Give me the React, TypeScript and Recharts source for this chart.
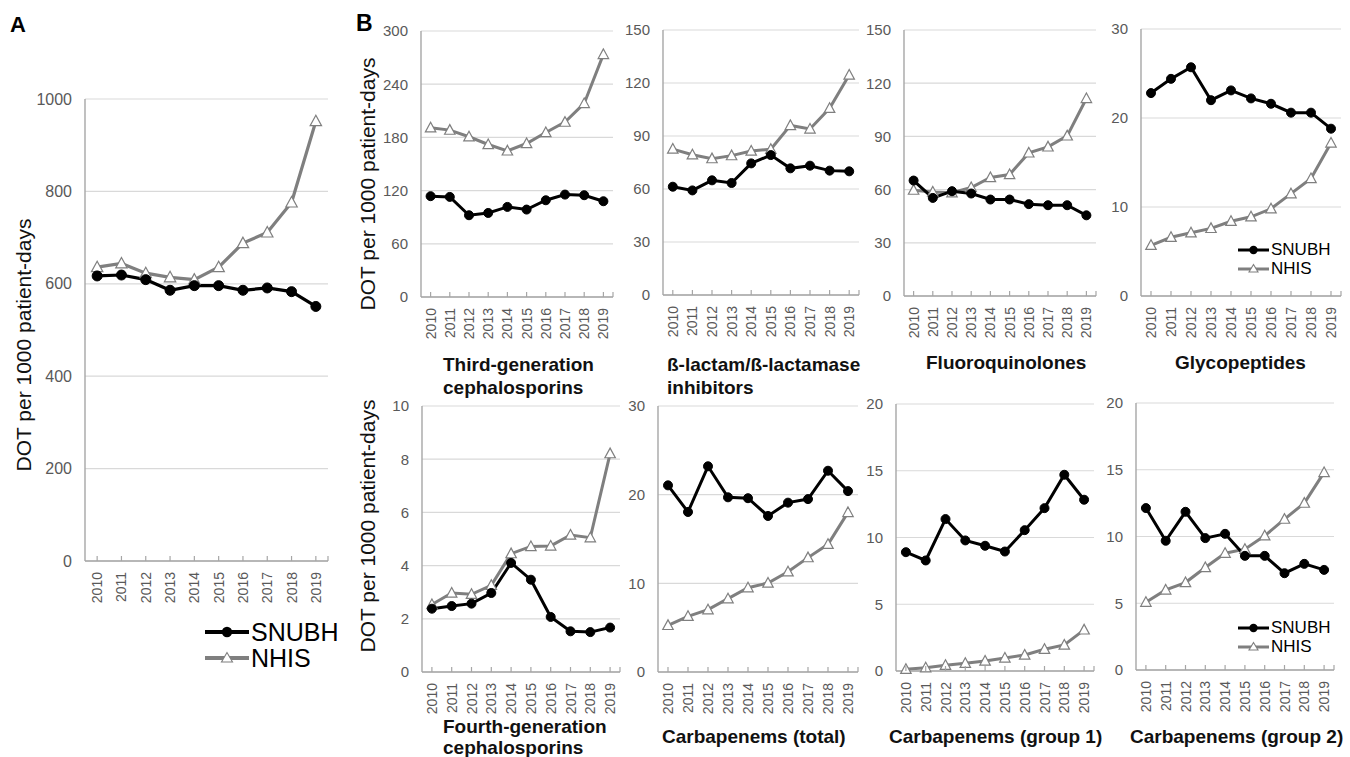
import React from 'react';
import { LineChart, Line, XAxis, YAxis, CartesianGrid } from 'recharts';

const years = ['2010', '2011', '2012', '2013', '2014', '2015', '2016', '2017', '2018', '2019'];

const totalSnubh = [617, 619, 609, 586, 596, 596, 586, 591, 583, 551];
const totalNhis = [636, 644, 623, 614, 609, 636, 688, 711, 776, 952];

const thirdSnubh = [113.7, 112.9, 92.2, 94.8, 101.6, 98.6, 109.1, 115.5, 114.8, 108.0];
const thirdNhis = [190.8, 188.2, 180.7, 172.0, 164.8, 173.1, 185.5, 197.2, 218.3, 273.6];

const blbliSnubh = [61.3, 59.2, 64.9, 63.4, 74.5, 79.2, 71.7, 73.2, 70.4, 70.0];
const blbliNhis = [82.6, 79.4, 77.2, 78.9, 81.5, 82.5, 96.0, 94.0, 105.7, 124.5];

const fqSnubh = [65.1, 55.3, 59.1, 57.8, 54.4, 54.4, 51.8, 51.2, 51.2, 45.5];
const fqNhis = [59.7, 58.7, 58.2, 61.2, 66.8, 68.5, 80.7, 84.1, 90.3, 111.4];

const glySnubh = [22.8, 24.4, 25.7, 22.0, 23.1, 22.2, 21.6, 20.6, 20.6, 18.8];
const glyNhis = [5.7, 6.6, 7.1, 7.6, 8.4, 8.9, 9.8, 11.5, 13.2, 17.2];

const fourthSnubh = [2.38, 2.48, 2.57, 2.97, 4.1, 3.47, 2.07, 1.53, 1.5, 1.67];
const fourthNhis = [2.54, 2.97, 2.92, 3.26, 4.45, 4.72, 4.74, 5.15, 5.05, 8.21];

const carbSnubh = [21.05, 18.05, 23.2, 19.7, 19.6, 17.6, 19.1, 19.5, 22.7, 20.4];
const carbNhis = [5.26, 6.28, 7.03, 8.27, 9.51, 10.04, 11.3, 12.9, 14.4, 18.0];

const g1Snubh = [8.9, 8.28, 11.38, 9.78, 9.38, 8.95, 10.55, 12.2, 14.7, 12.83];
const g1Nhis = [0.13, 0.25, 0.43, 0.58, 0.75, 0.98, 1.2, 1.63, 1.95, 3.08];

const g2Snubh = [12.13, 9.68, 11.85, 9.88, 10.2, 8.55, 8.55, 7.25, 7.95, 7.5];
const g2Nhis = [5.08, 6.0, 6.55, 7.68, 8.75, 9.05, 10.05, 11.3, 12.5, 14.8];

const ticksA = [0, 200, 400, 600, 800, 1000];
const ticks300 = [0, 60, 120, 180, 240, 300];
const ticks150 = [0, 30, 60, 90, 120, 150];
const ticks30 = [0, 10, 20, 30];
const ticks10 = [0, 2, 4, 6, 8, 10];
const ticks20 = [0, 5, 10, 15, 20];

const seriesNames = ['SNUBH', 'NHIS'];

const FONT = '"Liberation Sans", Arial, Helvetica, sans-serif';
const AXIS = '#a6a6a6';
const GRID = '#d9d9d9';
const TICK = '#595959';
const GRAY = '#7f7f7f';

const XTick = (props: any) => {
  const { x, y, payload, index, fontSize, half } = props;
  return (
    <g>
      <line x1={x} x2={x} y1={y} y2={y - 5} stroke={AXIS} strokeWidth={1.2} />
      {index === 9 ? <line x1={x + half} x2={x + half} y1={y} y2={y - 5} stroke={AXIS} strokeWidth={1.2} /> : null}
      <text
        x={x}
        y={y + 11}
        transform={`rotate(-90, ${x}, ${y + 11})`}
        textAnchor="end"
        dominantBaseline="central"
        fontSize={fontSize}
        fontFamily={FONT}
        fill={TICK}
      >
        {payload.value}
      </text>
    </g>
  );
};

const renderCircle = (r: number) => (p: any) =>
  <circle key={`c-${p.index}`} cx={p.cx} cy={p.cy} r={r} fill="#000" stroke="#000" />;

const renderTri = (s: number) => (p: any) => (
  <polygon
    key={`t-${p.index}`}
    points={`${p.cx},${p.cy - s} ${p.cx - s * 0.95},${p.cy + s * 0.75} ${p.cx + s * 0.95},${p.cy + s * 0.75}`}
    fill="#fff"
    stroke={GRAY}
    strokeWidth={1.2}
  />
);

type PanelProps = {
  l: number; t: number; r: number; b: number;
  yMax: number; ticks: number[];
  snubh: number[]; nhis: number[];
  yFont: number; xFont: number;
  big?: boolean;
};

function Panel({ l, t, r, b, yMax, ticks, snubh, nhis, yFont, xFont, big }: PanelProps) {
  const YW = 70, MT = 12, MR = 10, XH = 55;
  const width = r - l + YW + MR;
  const height = b - t + MT + XH;
  const data = years.map((y, i) => ({ year: y, SNUBH: snubh[i], NHIS: nhis[i] }));
  const half = (r - l) / 20;
  return (
    <div style={{ position: 'absolute', left: l - YW, top: t - MT }}>
      <LineChart width={width} height={height} data={data} margin={{ top: MT, right: MR, left: 0, bottom: 0 }}>
        <CartesianGrid vertical={false} stroke={GRID} strokeWidth={1.2} />
        <XAxis
          dataKey="year"
          height={XH}
          interval={0}
          padding={{ left: half, right: half }}
          axisLine={{ stroke: AXIS, strokeWidth: 1.4 }}
          tickLine={false}
          tickSize={0}
          tickMargin={0}
          tick={<XTick fontSize={xFont} half={half} />}
        />
        <YAxis
          width={YW}
          type="number"
          domain={[0, yMax]}
          ticks={ticks}
          interval={0}
          axisLine={{ stroke: AXIS, strokeWidth: 1.4 }}
          tickLine={false}
          tickSize={0}
          tickMargin={13}
          tick={{ fill: TICK, fontSize: yFont, fontFamily: FONT }}
        />
        <Line
          dataKey="NHIS"
          stroke={GRAY}
          strokeWidth={big ? 3.2 : 3}
          dot={renderTri(big ? 6 : 5.5)}
          isAnimationActive={false}
        />
        <Line
          dataKey="SNUBH"
          stroke="#000"
          strokeWidth={big ? 3.2 : 3}
          dot={renderCircle(big ? 5 : 4.5)}
          isAnimationActive={false}
        />
      </LineChart>
    </div>
  );
}

function LegendRow({ left, cy, lineW, fontSize, name, lw }: any) {
  const isS = name === seriesNames[0];
  const h = 16;
  const mid = lineW / 2;
  return (
    <div style={{ position: 'absolute', left, top: cy - h / 2, height: h, display: 'flex', alignItems: 'center', whiteSpace: 'nowrap' }}>
      <svg width={lineW} height={h} style={{ display: 'block' }}>
        <line x1={0} x2={lineW} y1={h / 2} y2={h / 2} stroke={isS ? '#000' : GRAY} strokeWidth={lw} />
        {isS ? (
          <circle cx={mid} cy={h / 2} r={lw + 1.2} fill="#000" />
        ) : (
          <polygon
            points={`${mid},${h / 2 - lw - 1.5} ${mid - lw - 1.5},${h / 2 + lw} ${mid + lw + 1.5},${h / 2 + lw}`}
            fill="#fff"
            stroke={GRAY}
            strokeWidth={1.1}
          />
        )}
      </svg>
      <span style={{ fontSize, lineHeight: `${h}px`, marginLeft: 2, color: '#000', fontFamily: FONT }}>{name}</span>
    </div>
  );
}

function YLabel({ cx, cy }: { cx: number; cy: number }) {
  return (
    <div
      style={{
        position: 'absolute', left: cx, top: cy,
        transform: 'translate(-50%, -50%) rotate(-90deg)',
        whiteSpace: 'nowrap', fontSize: 21, color: '#111', fontFamily: FONT, lineHeight: '24px',
      }}
    >
      DOT per 1000 patient-days
    </div>
  );
}

function Title({ left, cy, text }: { left: number; cy: number; text: string }) {
  return (
    <div
      style={{
        position: 'absolute', left, top: cy - 12, lineHeight: '24px', height: 24,
        fontSize: 19, fontWeight: 'bold', color: '#111', whiteSpace: 'nowrap', fontFamily: FONT,
      }}
    >
      {text}
    </div>
  );
}

export default function App() {
  return (
    <div style={{ position: 'absolute', left: 0, top: 0, width: 1350, height: 757, background: '#fff', fontFamily: FONT, overflow: 'hidden' }}>
      <div style={{ position: 'absolute', left: 10, top: 12, fontSize: 22, fontWeight: 'bold', lineHeight: '26px', fontFamily: FONT }}>A</div>
      <div style={{ position: 'absolute', left: 356, top: 10, fontSize: 23, fontWeight: 'bold', lineHeight: '26px', fontFamily: FONT }}>B</div>

      <Panel l={85} t={99} r={328} b={561} yMax={1000} ticks={ticksA} snubh={totalSnubh} nhis={totalNhis} yFont={16} xFont={14} big />
      <YLabel cx={24} cy={345} />
      <LegendRow left={205} cy={632} lineW={44} fontSize={25} name={seriesNames[0]} lw={4} />
      <LegendRow left={205} cy={658} lineW={44} fontSize={25} name={seriesNames[1]} lw={4} />

      <Panel l={421} t={31} r={613} b={297} yMax={300} ticks={ticks300} snubh={thirdSnubh} nhis={thirdNhis} yFont={15} xFont={14} />
      <Panel l={663} t={30} r={859} b={295} yMax={150} ticks={ticks150} snubh={blbliSnubh} nhis={blbliNhis} yFont={15} xFont={14} />
      <Panel l={904} t={30} r={1096} b={296} yMax={150} ticks={ticks150} snubh={fqSnubh} nhis={fqNhis} yFont={15} xFont={14} />
      <Panel l={1141} t={29} r={1341} b={296} yMax={30} ticks={ticks30} snubh={glySnubh} nhis={glyNhis} yFont={15} xFont={14} />
      <LegendRow left={1238} cy={250} lineW={31} fontSize={17} name={seriesNames[0]} lw={3} />
      <LegendRow left={1238} cy={269} lineW={31} fontSize={17} name={seriesNames[1]} lw={3} />

      <Panel l={422} t={406} r={620} b={672} yMax={10} ticks={ticks10} snubh={fourthSnubh} nhis={fourthNhis} yFont={15} xFont={14} />
      <Panel l={658} t={406} r={858} b={672} yMax={30} ticks={ticks30} snubh={carbSnubh} nhis={carbNhis} yFont={15} xFont={14} />
      <Panel l={896} t={404} r={1094} b={671} yMax={20} ticks={ticks20} snubh={g1Snubh} nhis={g1Nhis} yFont={15} xFont={14} />
      <Panel l={1136} t={403} r={1334} b={670} yMax={20} ticks={ticks20} snubh={g2Snubh} nhis={g2Nhis} yFont={15} xFont={14} />
      <LegendRow left={1238} cy={628} lineW={31} fontSize={17} name={seriesNames[0]} lw={3} />
      <LegendRow left={1238} cy={647} lineW={31} fontSize={17} name={seriesNames[1]} lw={3} />

      <YLabel cx={368} cy={184} />
      <YLabel cx={368} cy={526} />

      <Title left={443} cy={365} text="Third-generation" />
      <Title left={443} cy={388} text="cephalosporins" />
      <Title left={667} cy={365} text="ß-lactam/ß-lactamase" />
      <Title left={667} cy={388} text="inhibitors" />
      <Title left={926} cy={363} text="Fluoroquinolones" />
      <Title left={1175} cy={363} text="Glycopeptides" />
      <Title left={443} cy={727} text="Fourth-generation" />
      <Title left={443} cy={748} text="cephalosporins" />
      <Title left={662} cy={737} text="Carbapenems (total)" />
      <Title left={889} cy={737} text="Carbapenems (group 1)" />
      <Title left={1130} cy={737} text="Carbapenems (group 2)" />
    </div>
  );
}
